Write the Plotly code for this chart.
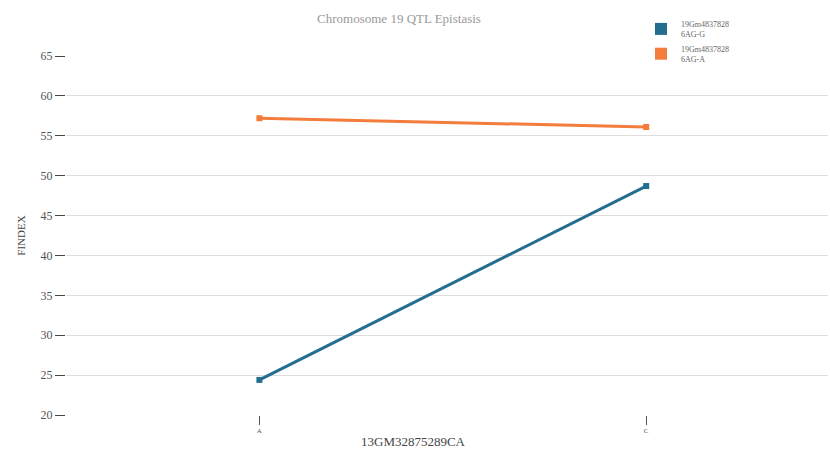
import plotly.graph_objects as go

categories = ["A", "C"]
series_names = ["19Gm4837828<br>6AG-G", "19Gm4837828<br>6AG-A"]
series_g = [24.4, 48.7]
series_a = [57.2, 56.1]
colors = ["#236d8e", "#f47c3c"]
y_ticks = [20, 25, 30, 35, 40, 45, 50, 55, 60, 65]

# plot area in pixels
L, R, T, B = 66, 828, 56, 415
def px(x):
    return (x - L) / (R - L)
def py(y):
    return (B - y) / (B - T)

fig = go.Figure()
for name, vals, col in zip(series_names, [series_g, series_a], colors):
    fig.add_trace(go.Scatter(
        x=categories, y=vals, mode="lines+markers", name=name,
        line=dict(color=col, width=3),
        marker=dict(symbol="square", size=6, color=col),
        showlegend=False, hoverinfo="x+y+name"))
for i, (name, col) in enumerate(zip(series_names, colors)):
    fig.add_trace(go.Scatter(
        x=[None], y=[None], mode="markers", name=name, legendgroup=f"g{i}",
        marker=dict(symbol="square", size=8, color=col),
        showlegend=True))

serif = "Liberation Serif"
fig.update_layout(
    width=830, height=450,
    margin=dict(l=L, r=830 - R, t=T, b=450 - B),
    paper_bgcolor="white", plot_bgcolor="white",
    font=dict(family=serif, color="#555"),
    title=dict(text="Chromosome 19 QTL Epistasis", x=399/830, xanchor="center",
               y=1 - 18/450, yanchor="middle",
               font=dict(family=serif, size=13, color="#999")),
    showlegend=True,
    legend=dict(x=px(641), y=py(12), xanchor="left", yanchor="top",
                font=dict(family=serif, size=8, color="#666666"),
                bgcolor="rgba(0,0,0,0)", itemsizing="constant",
                tracegroupgap=1, itemwidth=30),
    xaxis=dict(type="category", range=[-0.5, 1.47], showgrid=False,
               showline=False, zeroline=False,
               ticks="outside", ticklen=9, tickwidth=1, tickcolor="#555",
               tickfont=dict(family=serif, size=7, color="#555")),
    yaxis=dict(range=[20, 65], tickvals=y_ticks, showgrid=True,
               gridcolor="#dddddd", gridwidth=1, zeroline=False, showline=False,
               ticks="outside", ticklen=10, tickwidth=1, tickcolor="#444",
               tickfont=dict(family=serif, size=12, color="#555"),
               title=dict(text="FINDEX", standoff=12,
                          font=dict(family=serif, size=11, color="#444"))),
    annotations=[dict(text="13GM32875289CA", x=px(413), y=py(441),
                      xref="paper", yref="paper", xanchor="center", yanchor="middle",
                      showarrow=False, font=dict(family=serif, size=13, color="#444"))],
)
fig.write_html("out.html")
